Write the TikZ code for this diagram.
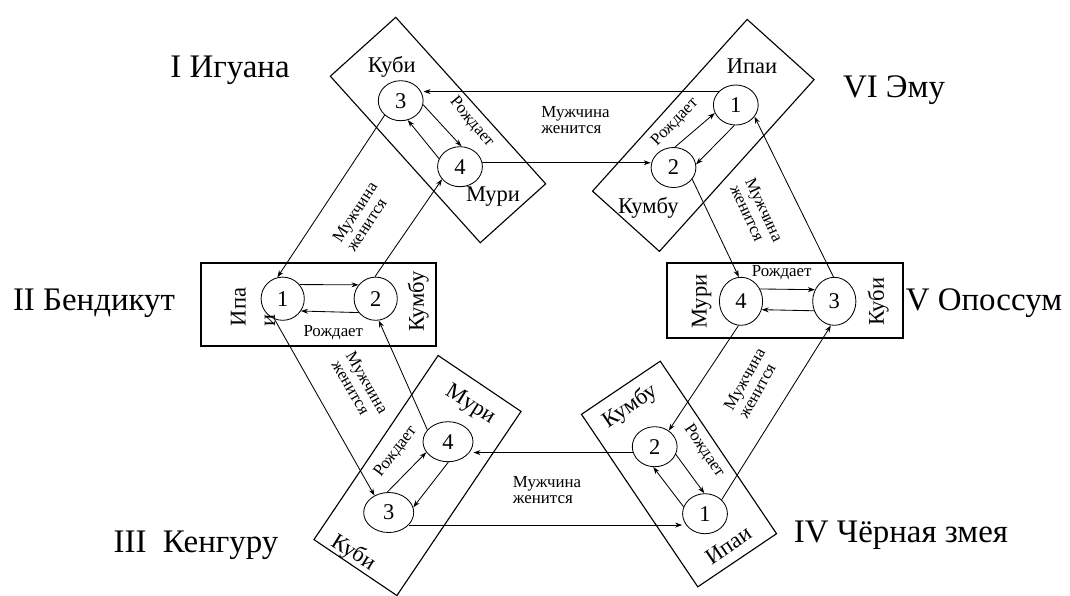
\documentclass[tikz,border=0pt]{standalone}
\usepackage{fontspec}
\setmainfont{Liberation Serif}
\usetikzlibrary{arrows.meta,shapes.geometric}

\begin{document}
\begin{tikzpicture}
[x=0.025cm, y=-0.025cm,
% STYLES
% The group style is used to draw the box of each totem
group/.style={rectangle, draw, line width=0.8pt, inner sep=0pt},
% The kin style is used to draw the numbered classes
kin/.style={ellipse, draw, line width=0.6pt, inner sep=0pt, minimum width=1.12cm, minimum height=1cm, font=\fontsize{16}{16}\selectfont},
% class names inside the boxes
cname/.style={inner sep=0pt, font=\fontsize{16}{21}\selectfont},
% totem names
totem/.style={inner sep=0pt, font=\fontsize{23.4}{26}\selectfont},
% small labels along the links
rel/.style={inner sep=0pt, align=left, font=\fontsize{12}{11.8}\selectfont},
link/.style={-{Stealth[length=5pt,width=3.5pt]}, line width=0.6pt}]
\useasboundingbox (0,0) rectangle (1070,595);
% Draw boxes
\node [group, minimum width=5.6cm, minimum height=2.2cm, rotate=-48] (box_i) at (438,130) {};
\node [group, minimum width=5.775cm, minimum height=2.25cm, rotate=48] (box_vi) at (703.3,135.4) {};
\node [group, minimum width=5.875cm, minimum height=2.075cm] (box_ii) at (318.5,304.5) {};
\node [group, minimum width=5.9cm, minimum height=1.875cm] (box_v) at (785,300.5) {};
\node [group, minimum width=5.55cm, minimum height=2.5cm, rotate=56] (box_iii) at (417.5,475.5) {};
\node [group, minimum width=5.2cm, minimum height=2.375cm, rotate=-56] (box_iv) at (679,474) {};
% Draw classes
\node [kin] (i3) at (400.7,100.7) {3};
\node [kin] (i4) at (460,166.7) {4};
\node [kin] (vi1) at (735.8,105) {1};
\node [kin] (vi2) at (673.5,167.5) {2};
\node [kin, minimum width=1.08cm, minimum height=1.08cm] (ii1) at (282.7,298.7) {1};
\node [kin, minimum width=1.08cm, minimum height=1.08cm] (ii2) at (375.7,298.7) {2};
\node [kin, minimum width=1.08cm, minimum height=1.2cm] (v4) at (741,301.3) {4};
\node [kin, minimum width=1.08cm, minimum height=1.2cm] (v3) at (834.3,301.3) {3};
\node [kin, minimum width=1.25cm] (iii4) at (448,441.7) {4};
\node [kin, minimum width=1.25cm] (iii3) at (388.7,512.5) {3};
\node [kin] (iv2) at (654.7,446.7) {2};
\node [kin] (iv1) at (705,513.7) {1};
%%%%%%%%%%%%%%%
% Names
\node [totem] (t_i) at (230,70) {I Игуана};
\node [totem] (t_vi) at (894,90) {VI Эму};
\node [totem] (t_ii) at (94,303) {II Бендикут};
\node [totem] (t_v) at (984,303) {V Опоссум};
\node [totem] (t_iii) at (196,545) {III\ \ Кенгуру};
\node [totem] (t_iv) at (901,535) {IV Чёрная змея};
% I
\node [cname] (i_kubi) at (391.7,66.7) {Куби};
\node [cname] (i_muri) at (493,197) {Мури};
\node [rel, rotate=-50] (i_birth) at (471.7,122.3) {Рождает};
% VI
\node [cname] (vi_ipai) at (752,66.7) {Ипаи};
\node [cname] (vi_kumbu) at (648.3,208.3) {Кумбу};
\node [rel, rotate=46] (vi_birth) at (675,122.3) {Рождает};
% II
\node [cname, rotate=90, align=left] (ii_ipai) at (253,307) {Ипа\\и};
\node [cname, rotate=90] (ii_kumbu) at (418.3,301.7) {Кумбу};
\node [rel] (ii_birth) at (333.3,332.7) {Рождает};
% V
\node [cname, rotate=90] (v_muri) at (701.7,301.7) {Мури};
\node [cname, rotate=90] (v_kubi) at (878.3,301.7) {Куби};
\node [rel] (v_birth) at (781.7,272.3) {Рождает};
% III
\node [cname, rotate=-32] (iii_muri) at (470,405) {Мури};
\node [cname, rotate=-32] (iii_kubi) at (353,553) {Куби};
\node [rel, rotate=53] (iii_birth) at (395.7,451.7) {Рождает};
% IV
\node [cname, rotate=34] (iv_kumbu) at (630,406.7) {Кумбу};
\node [cname, rotate=34] (iv_ipai) at (728.3,545) {Ипаи};
\node [rel, rotate=-56] (iv_birth) at (704,450.7) {Рождает};
% marriages
\node [rel] (m_top) at (575.5,120) {Мужчина\\женится};
\node [rel] (m_bottom) at (547,490) {Мужчина\\женится};
\node [rel, rotate=57] (m_left_up) at (361.7,216.7) {Мужчина\\женится};
\node [rel, rotate=-60] (m_left_down) at (360,386.7) {Мужчина\\женится};
\node [rel, rotate=-65] (m_right_up) at (756.7,213.3) {Мужчина\\женится};
\node [rel, rotate=61] (m_right_down) at (751.7,383.3) {Мужчина\\женится};
%%%%%%%%%%%%%%%%
% Draw the links inside the boxes
\path[link]
(i3.-10) edge (i4.86)
(i4.159) edge (i3.-70)
(vi2.86) edge (vi1.-159)
(vi1.-94) edge (vi2.8)
(ii1.40) edge (ii2.141)
(ii2.-141) edge (ii1.-34)
(v4.33) edge (v3.149)
(v3.-155) edge (v4.-22)
(iii3.94) edge (iii4.-154)
(iii4.-89) edge (iii3.12)
(iv2.-20) edge (iv1.92)
(iv1.162) edge (iv2.-94);
% Draw the links between boxes
\path[link]
(vi1.142) edge (vi1.142 -| i3.east)
(i4.10) edge (i4.10 -| vi2.west)
(i3.222) edge (ii1.104)
(ii2.92) edge (i4.215)
(vi2.-32) edge (v4.95)
(v3.92) edge (vi1.-32)
(ii1.248) edge (iii3.130)
(iii4.150) edge (ii2.-82)
(iv2.195) edge (iv2.195 -| iii4.east)
(iii3.-32) edge (iii3.-32 -| iv1.west)
(v4.-96) edge (iv2.49)
(iv1.40) edge (v3.-98);
\end{tikzpicture}
\end{document}
